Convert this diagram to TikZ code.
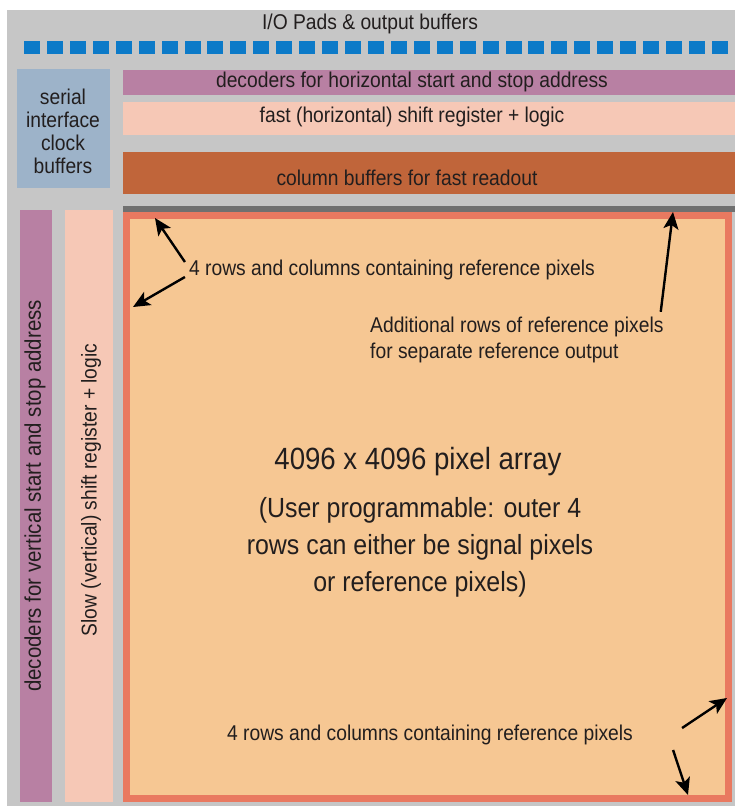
\documentclass[tikz,border=0pt]{standalone}
\usepackage{fontspec}
\setmainfont{Liberation Sans}
\newfontfamily\narrowsf[FakeStretch=0.9]{Liberation Sans}
\usetikzlibrary{arrows.meta}

\definecolor{chipgray}{RGB}{198,198,198}
\definecolor{padblue}{RGB}{12,122,200}
\definecolor{ifblue}{RGB}{157,179,201}
\definecolor{decmauve}{RGB}{184,128,163}
\definecolor{shiftpeach}{RGB}{246,200,182}
\definecolor{colbrown}{RGB}{192,101,58}
\definecolor{darkline}{RGB}{112,112,112}
\definecolor{arrayedge}{RGB}{233,121,96}
\definecolor{arrayfill}{RGB}{246,199,147}
\definecolor{txtgray}{RGB}{34,30,30}

\begin{document}
\begin{tikzpicture}[
    x=1pt, y=-1pt,
    lbl/.style={inner sep=0, text=txtgray, font=\narrowsf\fontsize{21.4}{23}\selectfont},
    bigtxt/.style={inner sep=0, text=txtgray, font=\narrowsf\fontsize{30.7}{37}\selectfont},
    paratxt/.style={inner sep=0, text=txtgray, align=center, font=\narrowsf\fontsize{27.7}{37}\selectfont},
    arr/.style={-{Stealth[length=17pt,width=15pt,inset=4pt]}, line width=2.4pt, black}
]
    \useasboundingbox (0,0) rectangle (735,806);
    \fill[white] (0,0) rectangle (735,806);
    \fill[chipgray] (7,10) rectangle (735,806);

    % I/O pads along the top edge
    \node[lbl] (iotxt) at (370,24) {I/O Pads \& output buffers};
    \foreach \i in {0,...,30}
        \fill[padblue] ({24+22.93*\i},41) rectangle ++(16,13);

    % serial interface block, top left
    \fill[ifblue] (17,69) rectangle (110,188);
    \node[lbl, align=center] (sertxt) at (63,131) {serial\\interface\\clock\\buffers};

    % horizontal readout rows
    \fill[decmauve]   (123,70)  rectangle (735,95);
    \fill[shiftpeach] (123,102) rectangle (735,135);
    \fill[colbrown]   (123,152) rectangle (735,194);
    \fill[darkline]   (123,206) rectangle (735,212);
    \node[lbl] (hdectxt) at (412,82)  {decoders for horizontal start and stop address};
    \node[lbl] (fasttxt) at (412,117) {fast (horizontal) shift register + logic};
    \node[lbl] (coltxt)  at (407,178) {column buffers for fast readout};

    % vertical address columns on the left
    \fill[decmauve]   (20,210) rectangle (52,802);
    \fill[shiftpeach] (65,210) rectangle (113,802);
    \node[lbl, font=\narrowsf\fontsize{22.7}{24}\selectfont, rotate=90] (vdectxt) at (35,496)
        {decoders for vertical start and stop address};
    \node[lbl, rotate=90] (slowtxt) at (91,490) {Slow (vertical) shift register + logic};

    % pixel array
    \fill[arrayfill] (123,212) rectangle (732,802);
    \draw[arrayedge, line width=7pt] (126.5,215.5) rectangle (728.5,798.5);

    \node[lbl] (reftop) at (392,270) {4 rows and columns containing reference pixels};
    \node[lbl, align=left, anchor=west] (addtxt) at (370,340)
        {Additional rows of reference pixels\\[3pt]for separate reference output};
    \node[bigtxt] (titletxt) at (418,462) {4096 x 4096 pixel array};
    \node[paratxt] (usertxt) at (420,547)
        {(User programmable: outer 4\\rows can either be signal pixels\\or reference pixels)};
    \node[lbl] (refbot) at (430,735) {4 rows and columns containing reference pixels};

    % arrow tips on the array edges
    \coordinate (tiptop)   at (155,218);
    \coordinate (tipleft)  at (133,307);
    \coordinate (tipextra) at (673,212);
    \coordinate (tipright) at (727,698);
    \coordinate (tipbot)   at (688,795);

    \draw[arr] ([shift={(-4,-8)}]reftop.west) -- (tiptop);
    \draw[arr] ([shift={(-4,7)}]reftop.west) -- (tipleft);
    \draw[arr] ([shift={(-3,-5)}]addtxt.north east) -- (tipextra);
    \draw[arr] ([shift={(49,-7)}]refbot.east) -- (tipright);
    \draw[arr] ([shift={(40,15)}]refbot.east) -- (tipbot);
\end{tikzpicture}
\end{document}
